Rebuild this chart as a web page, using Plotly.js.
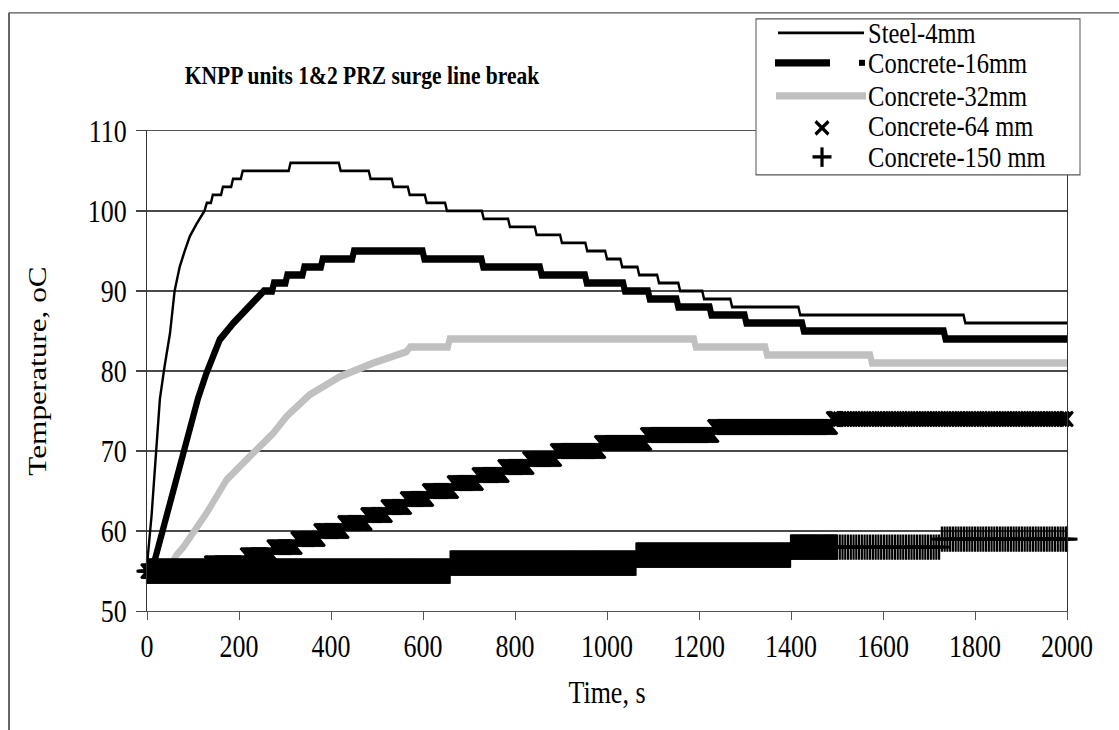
<!DOCTYPE html>
<html>
<head>
<meta charset="utf-8">
<script src="https://cdn.plot.ly/plotly-3.0.1.min.js"></script>
<style>
  html, body { margin: 0; padding: 0; background: #ffffff; overflow: hidden; width: 1119px; height: 730px; }
  #chart { width: 1119px; height: 608px; transform-origin: 0 0; }
</style>
</head>
<body>
<div id="chart"></div>
<script>
// ---------------- DATA ----------------
const xTickVals = [0, 200, 400, 600, 800, 1000, 1200, 1400, 1600, 1800, 2000];
const yTickVals = [50, 60, 70, 80, 90, 100, 110];

const seriesNames = ["Steel-4mm", "Concrete-16mm", "Concrete-32mm", "Concrete-64 mm", "Concrete-150 mm"];

// Steel-4mm : fast rise, then integer-degree plateaus
const steelRiseT = [0, 2, 10, 20, 28, 38, 50, 60, 71, 82, 93, 107, 125];
const steelRiseV = [55, 57, 62, 70.5, 76.5, 80.5, 84.7, 90, 93, 95, 96.8, 98.3, 100];
const steelLevels = [101, 102, 103, 104, 105, 106, 105, 104, 103, 102, 101, 100, 99, 98, 97, 96, 95, 94, 93, 92, 91, 90, 89, 88, 87, 86];
const steelStarts = [130, 143, 165, 187, 208, 312, 421, 486, 536, 571, 608, 652, 732, 789, 847, 902, 957, 1000, 1033, 1070, 1113, 1159, 1211, 1272, 1420, 1779];

// Concrete-16mm
const c16RiseT = [0, 8, 17, 38, 57, 82, 111, 129, 158, 188, 216, 248];
const c16RiseV = [55, 55, 56.4, 61, 65.1, 70.5, 76.6, 79.7, 83.9, 86, 87.6, 89.4];
const c16Levels = [90, 91, 92, 93, 94, 95, 94, 93, 92, 91, 90, 89, 88, 87, 86, 85, 84];
const c16Starts = [254, 276, 305, 342, 382, 450, 603, 731, 858, 956, 1039, 1093, 1155, 1227, 1303, 1428, 1736];

// Concrete-32mm
const c32RiseT = [0, 45, 64, 79, 129, 173, 223, 274, 303, 353, 419, 492, 564];
const c32RiseV = [55, 55, 57, 58, 62.2, 66.4, 69.3, 72.2, 74.3, 77, 79.3, 81, 82.4];
const c32Levels = [83, 84, 83, 82, 81];
const c32Starts = [572, 658, 1193, 1348, 1576];

// Concrete-64 mm (recorded as integer degrees, plotted with x markers)
const c64Levels = [55, 56, 57, 58, 59, 60, 61, 62, 63, 64, 65, 66, 67, 68, 69, 70, 71, 72, 73, 74];
const c64Starts = [0, 137, 216, 274, 325, 376, 427, 477, 521, 564, 612, 666, 720, 775, 830, 890, 985, 1085, 1231, 1490];

// Concrete-150 mm (plotted with + markers)
const c150Levels = [55, 56, 57, 58, 59];
const c150Starts = [0, 660, 1063, 1400, 1723];

// Recording time steps of the marker series (dense early, sparser later)
const recordStepEarly = 2;   // s, up to 1500 s
const recordStepLate = 6;    // s, after 1500 s
const recordSwitch = 1500;
const endTime = 2000;

// ---------------- helpers ----------------
function stepLine(riseT, riseV, levels, starts, end, ramp) {
  const x = riseT.slice(), y = riseV.slice();
  for (let i = 0; i < levels.length; i++) {
    const s = starts[i];
    const e = (i + 1 < levels.length) ? starts[i + 1] - ramp : end;
    x.push(s, e); y.push(levels[i], levels[i]);
  }
  return {x, y};
}
function recordTimes() {
  const t = [];
  for (let s = 0; s < recordSwitch; s += recordStepEarly) t.push(s);
  for (let s = recordSwitch; s < endTime; s += recordStepLate) t.push(s);
  t.push(endTime);
  return t;
}
function holdLevels(levels, starts, times) {
  return times.map(tt => {
    let v = levels[0];
    for (let i = 0; i < starts.length; i++) if (tt >= starts[i]) v = levels[i];
    return v;
  });
}

const steel = stepLine(steelRiseT, steelRiseV, steelLevels, steelStarts, endTime, 4);
const c16 = stepLine(c16RiseT, c16RiseV, c16Levels, c16Starts, endTime, 4);
const c32 = stepLine(c32RiseT, c32RiseV, c32Levels, c32Starts, endTime, 4);
const tRec = recordTimes();
const c64V = holdLevels(c64Levels, c64Starts, tRec);
const c150V = holdLevels(c150Levels, c150Starts, tRec);

const FONT = "Liberation Serif, serif";

// The reference picture is stretched vertically; render and stretch the same way.
const W = 1119, H_OUT = 730, H = 608;
const SY = H_OUT / H;
document.getElementById("chart").style.transform = "scale(1," + SY + ")";

const traces = [
  {x: steel.x, y: steel.y, name: seriesNames[0], type: "scatter", mode: "lines",
   line: {color: "#000000", width: 2.4}, cliponaxis: false, showlegend: false},
  {x: c16.x, y: c16.y, name: seriesNames[1], type: "scatter", mode: "lines",
   line: {color: "#000000", width: 6.2}, cliponaxis: false, showlegend: false},
  {x: c32.x, y: c32.y, name: seriesNames[2], type: "scatter", mode: "lines",
   line: {color: "#c0c0c0", width: 6.2}, cliponaxis: false, showlegend: false},
  {x: tRec, y: c64V, name: seriesNames[3], type: "scatter", mode: "markers",
   marker: {symbol: "x-thin", size: 12, color: "#000000", line: {color: "#000000", width: 2.4}},
   cliponaxis: false, showlegend: false},
  {x: tRec, y: c150V, name: seriesNames[4], type: "scatter", mode: "markers",
   marker: {symbol: "cross-thin", size: 15, color: "#000000", line: {color: "#000000", width: 2.2}},
   cliponaxis: false, showlegend: false}
];

// ------------- layout geometry (reference pixels -> paper fractions) -------------
const PL = 147, PR = 1067, PT = 131, PB = 611;   // plot area in reference pixels
const fx = p => (p - PL) / (PR - PL);
const fy = p => (PB - p) / (PB - PT);

const legendRowsY = [33, 63.5, 95, 126, 157];

const shapes = [
  // outer chart frame (left and top edges visible)
  {type: "line", xref: "paper", yref: "paper", x0: fx(9), x1: fx(9), y0: fy(13), y1: fy(745), line: {color: "#333333", width: 1.5}},
  {type: "line", xref: "paper", yref: "paper", x0: fx(9), x1: fx(1130), y0: fy(13), y1: fy(13), line: {color: "#555555", width: 1}},
  // legend box
  {type: "rect", xref: "paper", yref: "paper", x0: fx(756), x1: fx(1080), y0: fy(175), y1: fy(19),
   fillcolor: "#ffffff", line: {color: "#555555", width: 1}, layer: "above"},
  // legend samples
  {type: "line", xref: "paper", yref: "paper", x0: fx(778), x1: fx(864), y0: fy(33), y1: fy(33), line: {color: "#000", width: 2.2}, layer: "above"},
  {type: "line", xref: "paper", yref: "paper", x0: fx(775), x1: fx(830), y0: fy(63), y1: fy(63), line: {color: "#000", width: 6}, layer: "above"},
  {type: "rect", xref: "paper", yref: "paper", x0: fx(859), x1: fx(865), y0: fy(66), y1: fy(60), fillcolor: "#000", line: {width: 0}, layer: "above"},
  {type: "line", xref: "paper", yref: "paper", x0: fx(776), x1: fx(866), y0: fy(96), y1: fy(96), line: {color: "#c0c0c0", width: 6}, layer: "above"},
  {type: "line", xref: "paper", yref: "paper", x0: fx(815.5), x1: fx(828.5), y0: fy(121.5), y1: fy(134.5), line: {color: "#000", width: 3.2}, layer: "above"},
  {type: "line", xref: "paper", yref: "paper", x0: fx(815.5), x1: fx(828.5), y0: fy(134.5), y1: fy(121.5), line: {color: "#000", width: 3.2}, layer: "above"},
  {type: "line", xref: "paper", yref: "paper", x0: fx(812.5), x1: fx(831.5), y0: fy(157), y1: fy(157), line: {color: "#000", width: 2.8}, layer: "above"},
  {type: "line", xref: "paper", yref: "paper", x0: fx(822), x1: fx(822), y0: fy(147.5), y1: fy(167), line: {color: "#000", width: 3.2}, layer: "above"}
];

const annotations = seriesNames.map((n, i) => ({
  text: n, xref: "paper", yref: "paper", x: fx(867), y: fy(legendRowsY[i]),
  xanchor: "left", yanchor: "middle", showarrow: false, borderpad: 0,
  font: {family: FONT, size: 24.5, color: "#000"}
}));

const layout = {
  width: W, height: H,
  margin: {l: PL, r: W - PR, t: PT / SY, b: H - PB / SY, pad: 0},
  paper_bgcolor: "#ffffff", plot_bgcolor: "#ffffff",
  font: {family: FONT, size: 26, color: "#000"},
  showlegend: false,
  title: {text: "<b>KNPP units 1&amp;2 PRZ surge line break</b>", font: {family: FONT, size: 21.5, color: "#000"},
          xref: "container", yref: "container", x: 362 / W, y: 1 - 75 / H_OUT, xanchor: "center", yanchor: "middle"},
  xaxis: {
    range: [0, 2000], tickvals: xTickVals, ticktext: xTickVals.map(String),
    showgrid: false, zeroline: false, ticks: "outside", ticklen: 6, tickwidth: 1, tickcolor: "#555",
    showline: true, linecolor: "#555", linewidth: 1, mirror: true,
    tickfont: {family: FONT, size: 26, color: "#000"},
    title: {text: "Time, s", font: {family: FONT, size: 26, color: "#000"}, standoff: 15}
  },
  yaxis: {
    range: [50, 110], tickvals: yTickVals, ticktext: yTickVals.map(String),
    showgrid: true, gridcolor: "#4a4a4a", gridwidth: 1, zeroline: false,
    ticks: "outside", ticklen: 10, tickwidth: 1, tickcolor: "#444", ticklabelstandoff: 4,
    showline: true, linecolor: "#333", linewidth: 1, mirror: true,
    tickfont: {family: FONT, size: 26, color: "#000"},
    title: {text: "Temperature, oC", font: {family: FONT, size: 26, color: "#000"}, standoff: 33}
  },
  shapes: shapes,
  annotations: annotations
};

Plotly.newPlot("chart", traces, layout, {staticPlot: true, displayModeBar: false});
</script>
</body>
</html>
